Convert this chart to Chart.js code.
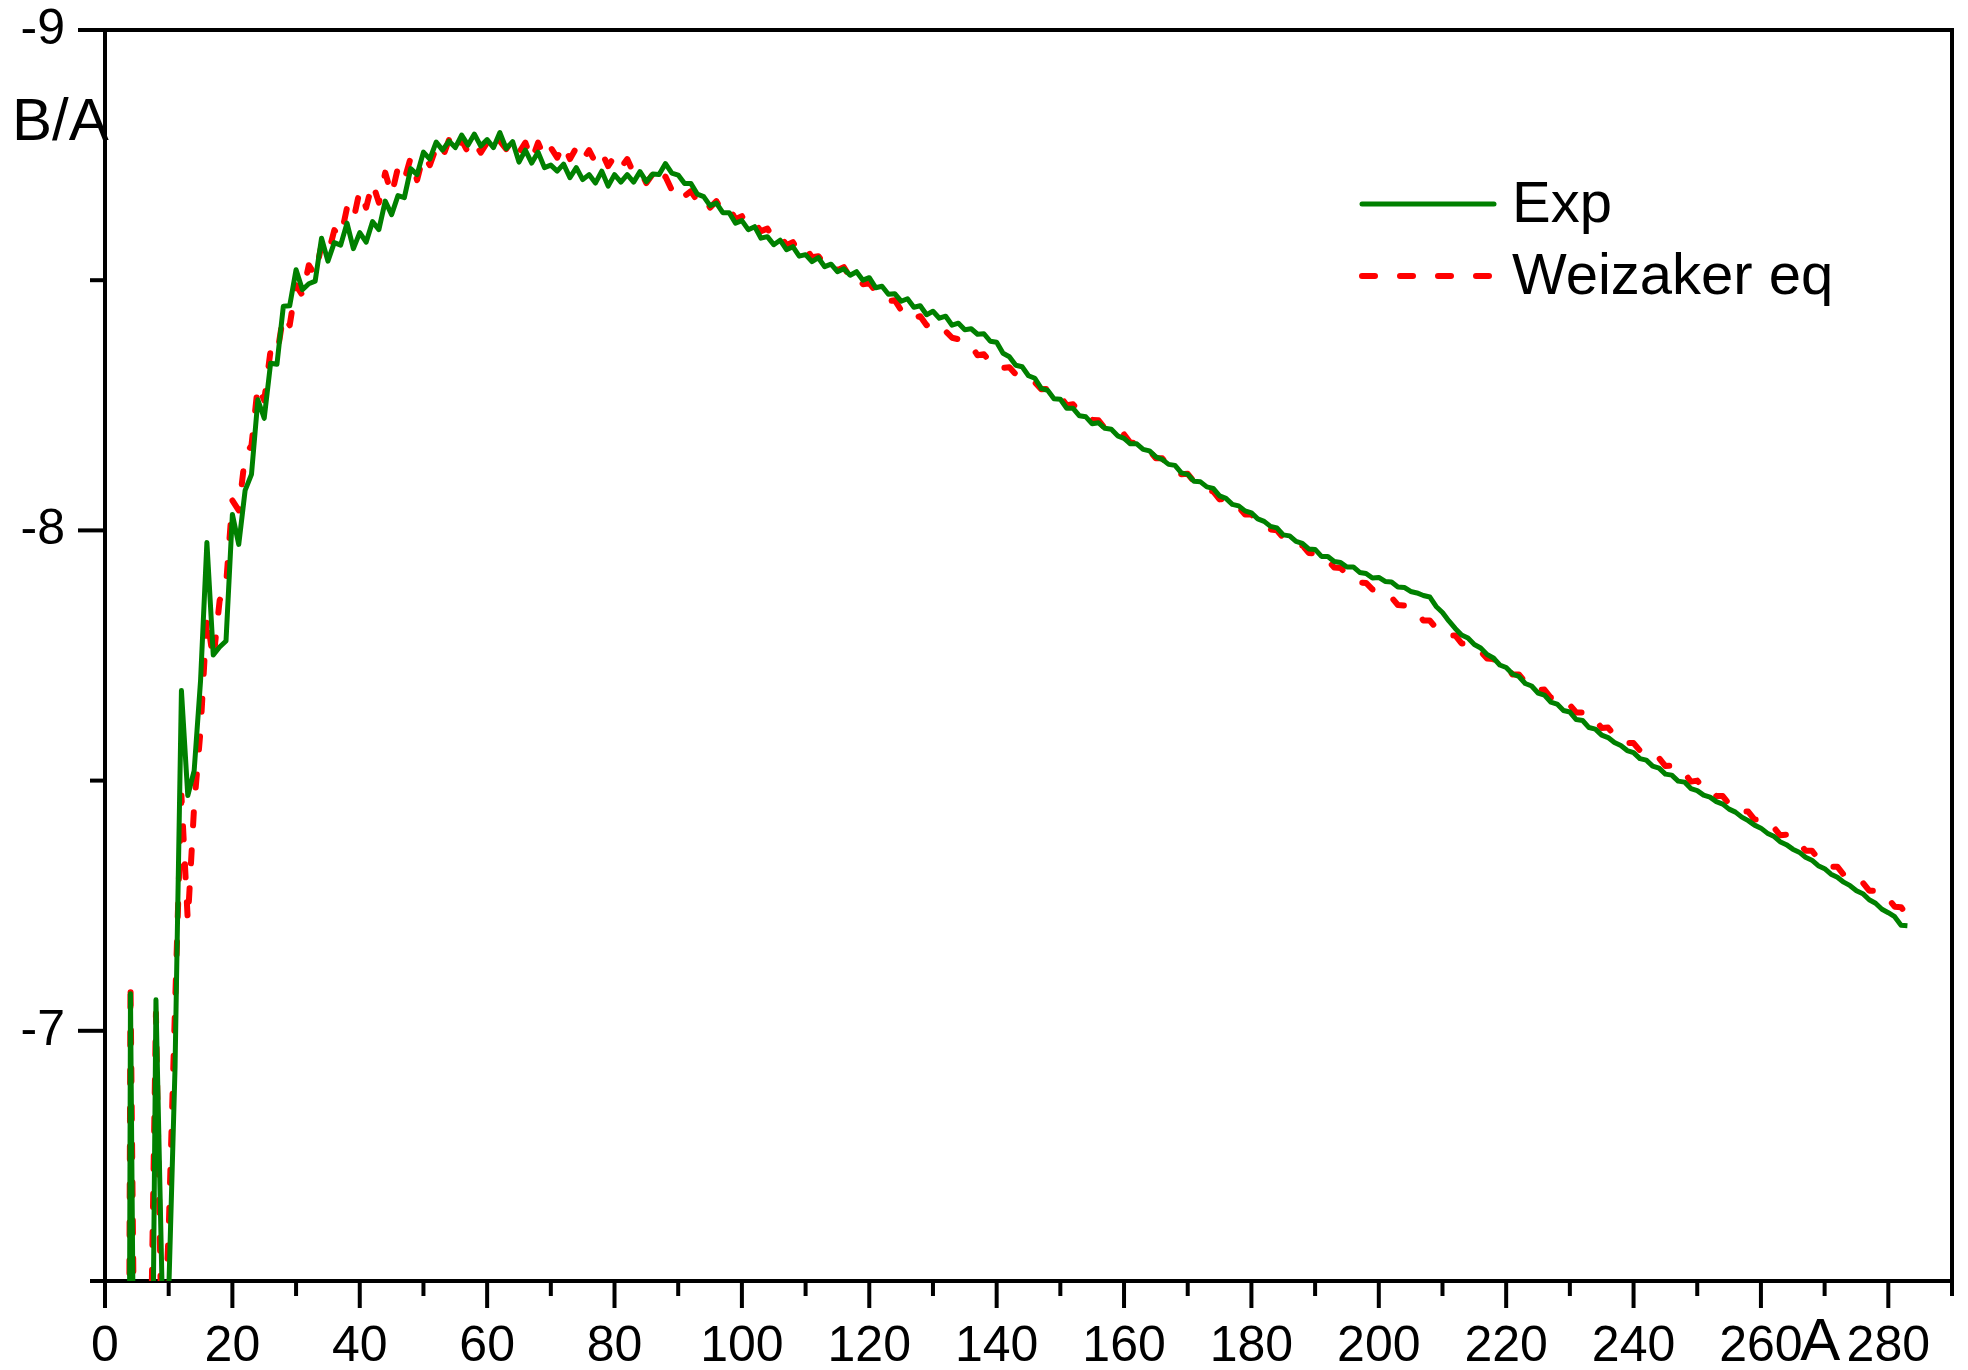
<!DOCTYPE html>
<html lang="en">

<head>
    <meta charset="UTF-8" />
    <title>B/A vs A</title>
    <style>
        body {
            margin: 0;
            background: #fff;
        }

        #wrap {
            width: 1968px;
            height: 1370px;
        }
    </style>
    <script src="https://cdn.jsdelivr.net/npm/chart.js"></script>
</head>

<body>
    <div id="wrap">
        <canvas id="grafico" width="1968" height="1370"></canvas>
    </div>

    <script>
        // mass number A starts at 1, one value per A
        const firstA = 1;

        // experimental binding energy per nucleon (plotted negative)
        const expBA = [
            0, -1.112, -2.827, -7.074, -5.512, -5.332, -5.606, -7.062, -6.463, -6.475,
            -6.928, -7.680, -7.470, -7.520, -7.699, -7.976, -7.751, -7.767, -7.779, -8.032,
            -7.972, -8.080, -8.112, -8.261, -8.224, -8.334, -8.332, -8.448, -8.449, -8.521,
            -8.481, -8.493, -8.498, -8.584, -8.538, -8.575, -8.570, -8.614, -8.563, -8.595,
            -8.576, -8.617, -8.601, -8.658, -8.631, -8.669, -8.665, -8.723, -8.711, -8.756,
            -8.742, -8.776, -8.760, -8.778, -8.765, -8.790, -8.770, -8.792, -8.768, -8.781,
            -8.765, -8.795, -8.763, -8.777, -8.736, -8.760, -8.734, -8.756, -8.725, -8.730,
            -8.718, -8.732, -8.705, -8.725, -8.701, -8.711, -8.694, -8.718, -8.688, -8.711,
            -8.696, -8.711, -8.696, -8.717, -8.697, -8.712, -8.711, -8.733, -8.714, -8.710,
            -8.693, -8.693, -8.672, -8.667, -8.649, -8.654, -8.635, -8.635, -8.614, -8.619,
            -8.601, -8.607, -8.584, -8.587, -8.571, -8.580, -8.561, -8.567, -8.548, -8.551,
            -8.537, -8.545, -8.527, -8.532, -8.517, -8.523, -8.510, -8.517, -8.500, -8.505,
            -8.485, -8.488, -8.472, -8.473, -8.458, -8.463, -8.446, -8.449, -8.431, -8.438,
            -8.424, -8.428, -8.410, -8.414, -8.401, -8.403, -8.392, -8.393, -8.378, -8.376,
            -8.354, -8.347, -8.330, -8.327, -8.309, -8.304, -8.284, -8.280, -8.263, -8.262,
            -8.244, -8.244, -8.229, -8.227, -8.213, -8.215, -8.204, -8.202, -8.189, -8.184,
            -8.173, -8.173, -8.162, -8.159, -8.147, -8.142, -8.132, -8.130, -8.115, -8.112,
            -8.098, -8.097, -8.087, -8.084, -8.069, -8.064, -8.052, -8.049, -8.039, -8.035,
            -8.023, -8.018, -8.008, -8.005, -7.991, -7.989, -7.978, -7.974, -7.963, -7.962,
            -7.948, -7.948, -7.938, -7.936, -7.927, -7.927, -7.916, -7.914, -7.905, -7.906,
            -7.898, -7.897, -7.887, -7.886, -7.878, -7.875, -7.870, -7.867, -7.848, -7.836,
            -7.819, -7.804, -7.791, -7.785, -7.772, -7.765, -7.752, -7.745, -7.731, -7.726,
            -7.713, -7.708, -7.694, -7.689, -7.675, -7.671, -7.657, -7.653, -7.640, -7.637,
            -7.622, -7.620, -7.606, -7.603, -7.591, -7.586, -7.576, -7.570, -7.560, -7.556,
            -7.544, -7.541, -7.529, -7.525, -7.513, -7.511, -7.499, -7.497, -7.484, -7.480,
            -7.471, -7.467, -7.458, -7.453, -7.443, -7.437, -7.427, -7.420, -7.411, -7.405,
            -7.395, -7.389, -7.378, -7.372, -7.363, -7.357, -7.347, -7.341, -7.330, -7.324,
            -7.313, -7.307, -7.297, -7.290, -7.280, -7.274, -7.262, -7.255, -7.243, -7.236,
            -7.228, -7.211, -7.210
        ];

        // Weizsaecker formula, same A
        const weizBA = [
            -1.2, -2.1, -3.6, -7.100, -5.8, -6.1, -6.2, -7.035, -6.3, -6.60,
            -7.05, -7.47, -7.22, -7.45, -7.60, -7.83, -7.74, -7.86, -7.89, -8.06,
            -8.04, -8.15, -8.17, -8.29, -8.26, -8.36, -8.35, -8.43, -8.41, -8.49,
            -8.47, -8.53, -8.51, -8.57, -8.55, -8.60, -8.585, -8.645, -8.62, -8.68,
            -8.645, -8.695, -8.655, -8.715, -8.67, -8.725, -8.70, -8.745, -8.70, -8.75,
            -8.73, -8.765, -8.745, -8.78, -8.755, -8.78, -8.755, -8.775, -8.755, -8.775,
            -8.757, -8.778, -8.762, -8.78, -8.755, -8.775, -8.74, -8.775, -8.745, -8.765,
            -8.745, -8.772, -8.742, -8.765, -8.74, -8.76, -8.735, -8.755, -8.728, -8.748,
            -8.725, -8.742, -8.714, -8.72, -8.694, -8.712, -8.69, -8.707, -8.68, -8.69,
            -8.668, -8.678, -8.658, -8.668, -8.645, -8.658, -8.636, -8.644, -8.622, -8.628,
            -8.608, -8.615, -8.598, -8.603, -8.583, -8.59, -8.570, -8.576, -8.556, -8.565,
            -8.546, -8.548, -8.532, -8.538, -8.520, -8.526, -8.506, -8.512, -8.492, -8.494,
            -8.478, -8.476, -8.458, -8.460, -8.440, -8.444, -8.425, -8.428, -8.410, -8.416,
            -8.400, -8.398, -8.385, -8.382, -8.368, -8.369, -8.350, -8.352, -8.336, -8.340,
            -8.325, -8.326, -8.312, -8.310, -8.296, -8.296, -8.282, -8.283, -8.266, -8.268,
            -8.250, -8.252, -8.236, -8.235, -8.221, -8.220, -8.204, -8.203, -8.190, -8.192,
            -8.175, -8.175, -8.160, -8.159, -8.144, -8.144, -8.128, -8.128, -8.112, -8.113,
            -8.097, -8.094, -8.080, -8.078, -8.062, -8.063, -8.048, -8.046, -8.032, -8.032,
            -8.016, -8.015, -8.002, -8.000, -7.985, -7.984, -7.970, -7.970, -7.955, -7.954,
            -7.940, -7.940, -7.926, -7.925, -7.911, -7.910, -7.896, -7.895, -7.882, -7.880,
            -7.866, -7.866, -7.851, -7.850, -7.836, -7.835, -7.820, -7.820, -7.805, -7.805,
            -7.790, -7.790, -7.774, -7.774, -7.759, -7.758, -7.744, -7.743, -7.727, -7.728,
            -7.712, -7.712, -7.697, -7.697, -7.681, -7.682, -7.666, -7.667, -7.651, -7.651,
            -7.636, -7.636, -7.620, -7.621, -7.605, -7.606, -7.590, -7.590, -7.575, -7.575,
            -7.560, -7.560, -7.544, -7.545, -7.529, -7.530, -7.514, -7.515, -7.498, -7.500,
            -7.484, -7.485, -7.469, -7.469, -7.453, -7.454, -7.438, -7.438, -7.422, -7.423,
            -7.407, -7.407, -7.391, -7.392, -7.376, -7.376, -7.360, -7.360, -7.344, -7.344,
            -7.328, -7.328, -7.312, -7.312, -7.296, -7.296, -7.280, -7.280, -7.264, -7.264,
            -7.248, -7.247, -7.231
        ];

        const seriesNames = ['Exp', 'Weizaker eq'];
        const xMin = 0, xMax = 290, xStep = 10, xLabelStep = 20, xLastLabel = 280;
        const yMin = -9, yMax = -6.5, yStep = 0.5;

        const fonte = '"Liberation Sans", Arial, Helvetica, sans-serif';
        Chart.defaults.font.family = fonte;
        Chart.defaults.color = '#000';

        const paraPontos = arr => arr.map((v, i) => ({ x: firstA + i, y: v }));

        // frame, tick marks, axis texts and legend
        const moldura = {
            id: 'moldura',
            afterDraw(chart) {
                const { ctx, chartArea: a, scales: { x, y } } = chart;
                ctx.save();
                ctx.strokeStyle = '#000';
                ctx.lineWidth = 4;
                ctx.lineCap = 'butt';
                ctx.beginPath();
                ctx.moveTo(a.left - 2, a.top);
                ctx.lineTo(a.right, a.top);
                ctx.lineTo(a.right, a.bottom + 2);
                ctx.stroke();

                x.ticks.forEach(t => {
                    const px = x.getPixelForValue(t.value);
                    const len = t.value % xLabelStep === 0 ? 27 : 15;
                    ctx.beginPath();
                    ctx.moveTo(px, a.bottom);
                    ctx.lineTo(px, a.bottom + len);
                    ctx.stroke();
                });
                y.ticks.forEach(t => {
                    const py = y.getPixelForValue(t.value);
                    const len = Number.isInteger(t.value) ? 27 : 15;
                    ctx.beginPath();
                    ctx.moveTo(a.left, py);
                    ctx.lineTo(a.left - len, py);
                    ctx.stroke();
                });

                // axis names
                ctx.fillStyle = '#000';
                ctx.textBaseline = 'alphabetic';
                ctx.font = '60px ' + fonte;
                ctx.textAlign = 'left';
                ctx.fillText('B/A', 12, y.getPixelForValue(-8.78));
                ctx.font = '60px ' + fonte;
                ctx.textAlign = 'center';
                ctx.fillText('A', x.getPixelForValue(269.3), a.bottom + 79);

                // legend
                const lx0 = 1362, lx1 = 1494, tx = 1512;
                const ly = [204, 276];
                chart.data.datasets.forEach((ds, i) => {
                    ctx.strokeStyle = ds.borderColor;
                    ctx.lineWidth = ds.borderWidth;
                    ctx.lineCap = 'round';
                    ctx.setLineDash(ds.borderDash || []);
                    ctx.beginPath();
                    ctx.moveTo(lx0, ly[i]);
                    ctx.lineTo(lx1, ly[i]);
                    ctx.stroke();
                    ctx.setLineDash([]);
                    ctx.font = '58px ' + fonte;
                    ctx.textAlign = 'left';
                    ctx.textBaseline = 'middle';
                    ctx.fillText(ds.label, tx, ly[i] + 2);
                });
                ctx.restore();
            }
        };

        new Chart(document.getElementById('grafico'), {
            type: 'line',
            data: {
                datasets: [{
                    label: seriesNames[0],
                    data: paraPontos(expBA),
                    borderColor: '#008000',
                    borderWidth: 5,
                    borderJoinStyle: 'round',
                    pointRadius: 0,
                    tension: 0,
                    clip: 0
                }, {
                    label: seriesNames[1],
                    data: paraPontos(weizBA),
                    borderColor: '#ff0000',
                    borderWidth: 6,
                    borderDash: [13, 25],
                    borderCapStyle: 'round',
                    borderJoinStyle: 'round',
                    pointRadius: 0,
                    tension: 0,
                    clip: 0
                }]
            },
            options: {
                responsive: false,
                animation: false,
                layout: { padding: { top: 30, right: 16, left: 0, bottom: 0 } },
                plugins: {
                    legend: { display: false },
                    tooltip: { enabled: false }
                },
                scales: {
                    x: {
                        type: 'linear',
                        min: xMin,
                        max: xMax,
                        grid: { display: false, drawTicks: false },
                        border: { display: true, color: '#000', width: 4 },
                        ticks: {
                            stepSize: xStep,
                            autoSkip: false,
                            maxRotation: 0,
                            padding: 36,
                            font: { size: 50 },
                            color: '#000',
                            callback: v => (v % xLabelStep === 0 && v <= xLastLabel) ? String(v) : ''
                        },
                        afterFit: s => {
                            s.height = 89;
                            s.paddingLeft = 0;
                            s.paddingRight = 0;
                        }
                    },
                    y: {
                        type: 'linear',
                        reverse: true,
                        min: yMin,
                        max: yMax,
                        grid: { display: false, drawTicks: false },
                        border: { display: true, color: '#000', width: 4 },
                        ticks: {
                            stepSize: yStep,
                            autoSkip: false,
                            padding: 40,
                            font: { size: 50 },
                            color: '#000',
                            callback: v => Number.isInteger(v) ? String(v) : ''
                        },
                        afterFit: s => {
                            s.width = 105;
                            s.paddingTop = 0;
                            s.paddingBottom = 0;
                        }
                    }
                }
            },
            plugins: [moldura]
        });
    </script>
</body>

</html>
